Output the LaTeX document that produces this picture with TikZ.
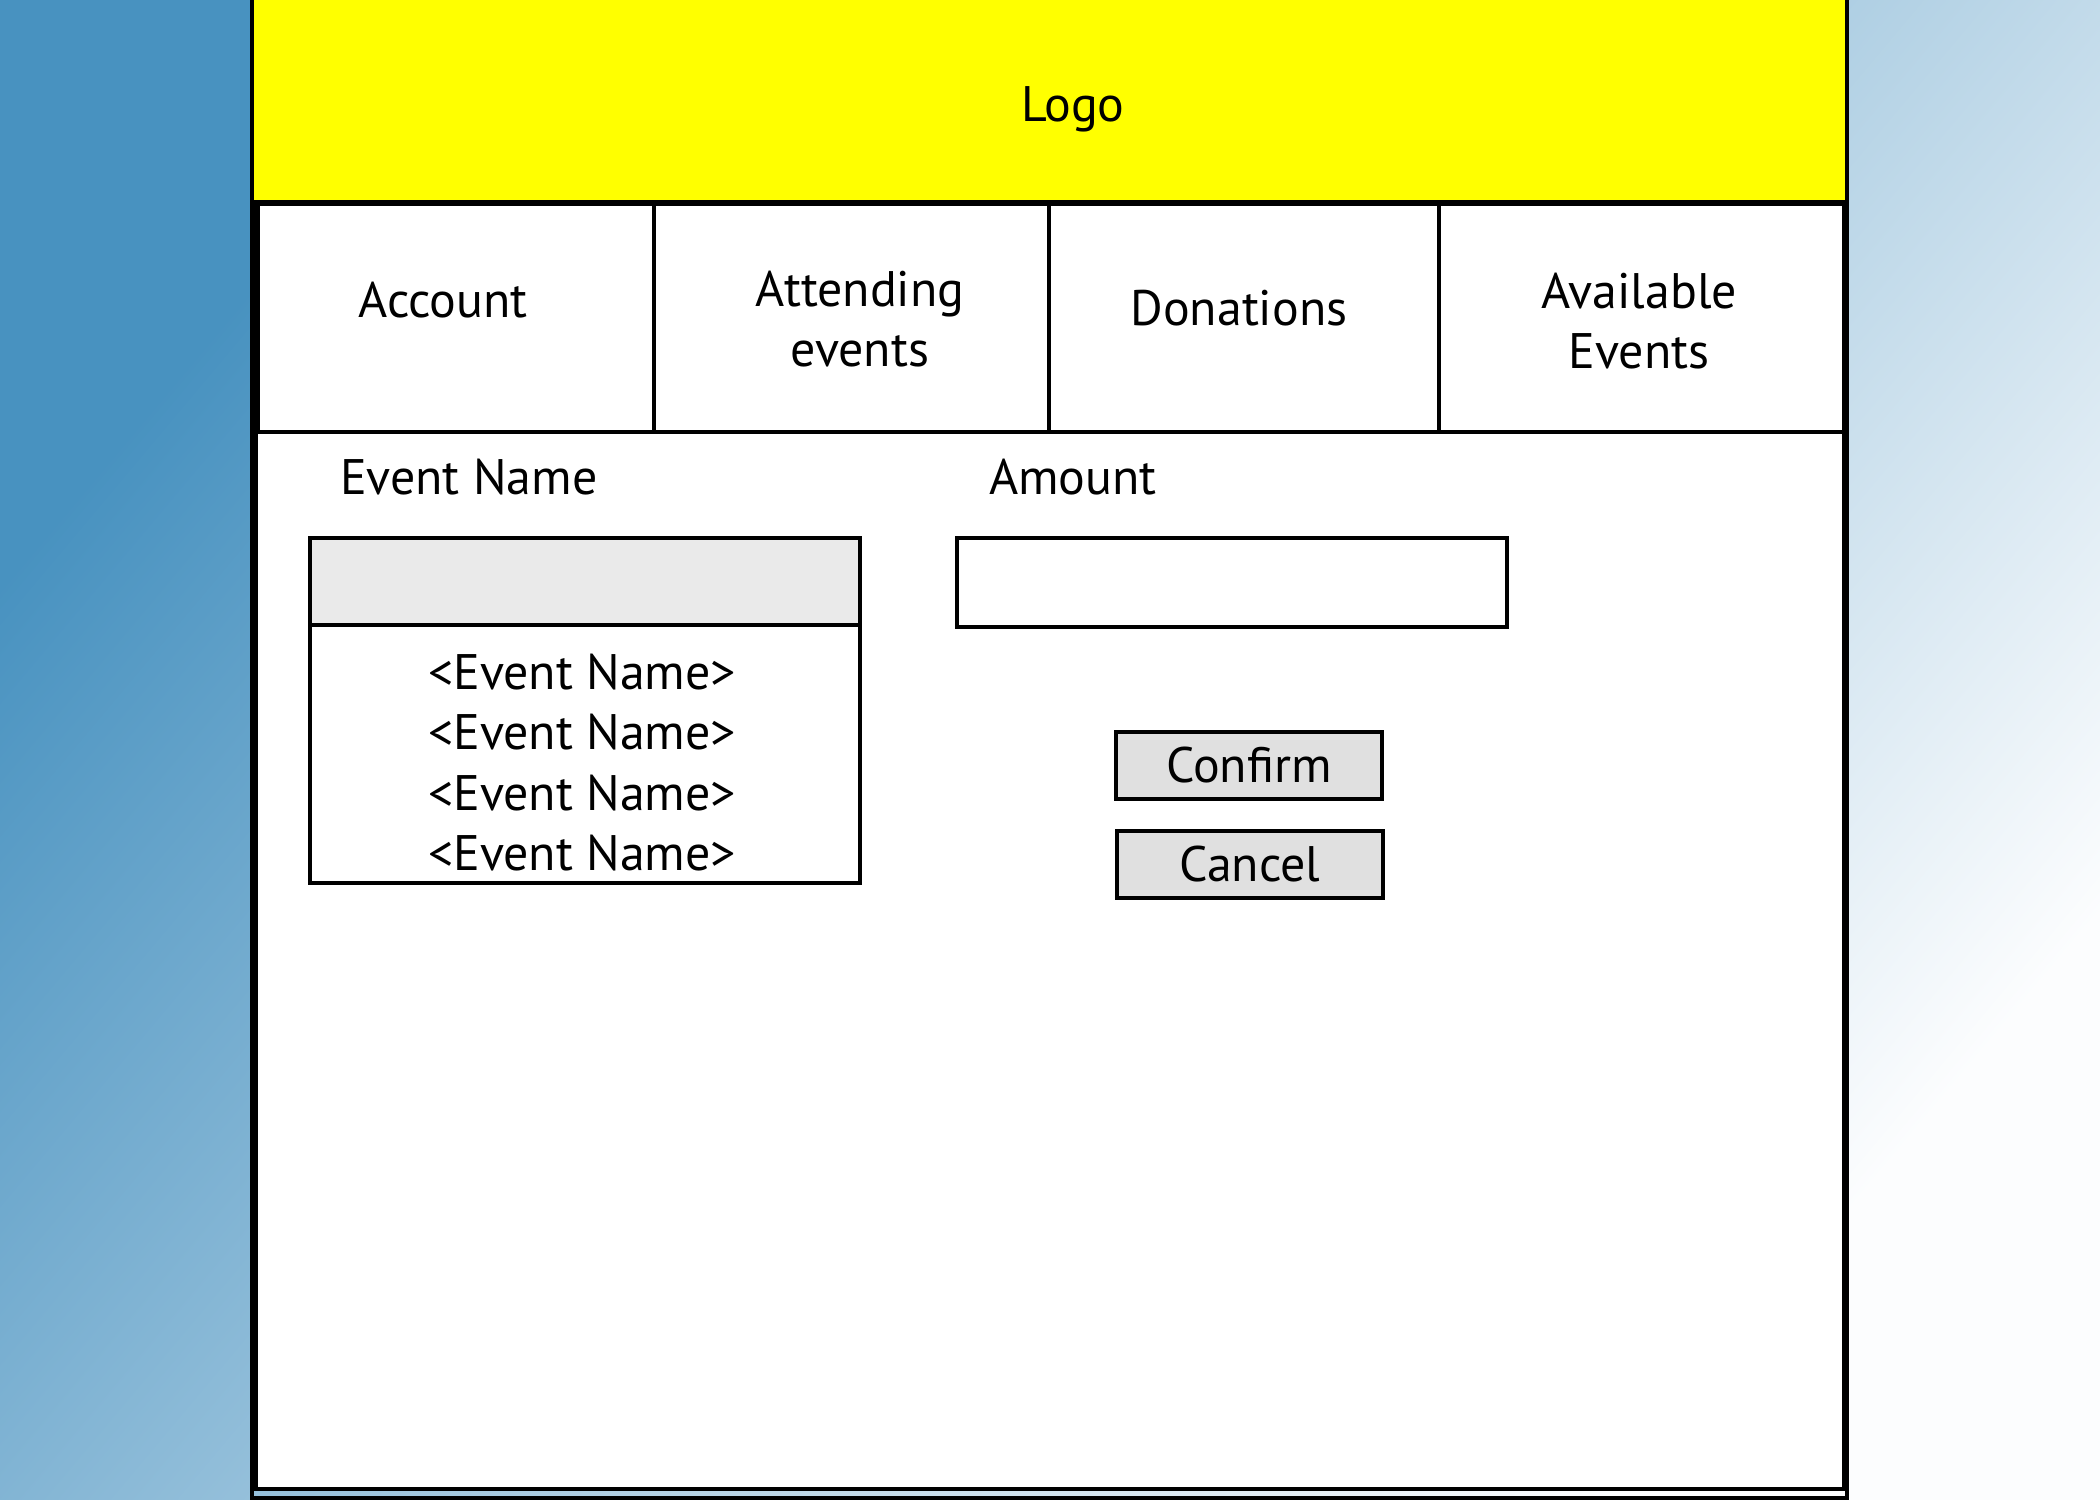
\documentclass[tikz,border=0pt]{standalone}
\usepackage{fontspec}
\setmainfont{PT Sans}
\usetikzlibrary{positioning}
\definecolor{bgdark}{RGB}{72,146,192}
\definecolor{bglight}{RGB}{252,253,254}
\definecolor{logoyellow}{RGB}{255,255,0}
\definecolor{headgrey}{RGB}{234,234,234}
\definecolor{btngrey}{RGB}{224,224,224}

\begin{document}
\begin{tikzpicture}[x=1cm,y=-1cm,
                    line width=0.04cm,
                    every node/.style={font=\fontsize{14.2pt}{17pt}\selectfont},
                    tab cell/.style={draw,rectangle,anchor=north west,minimum height=2.28cm,inner sep=0pt},
                    tab text/.style={align=center,inner sep=0pt},
                    field/.style={draw,rectangle,anchor=north west,inner sep=0pt},
                    button/.style={draw,rectangle,fill=btngrey,minimum width=2.66cm,minimum height=0.67cm,inner sep=0pt},
                    caption/.style={anchor=west,inner sep=0pt}
                   ]
  \useasboundingbox (0,0) rectangle (21,15);
  \shade[top color=bgdark,bottom color=bglight,shading angle=50] (0,0) rectangle (21,15);
  \draw (2.52,-0.1) rectangle (18.47,14.98);
  \fill[logoyellow] (2.54,0) rectangle (18.45,2.02);
  \node (logo) at (10.73,1.09) {Logo};
  \draw[fill=white] (2.56,2.02) rectangle (18.44,14.89);

  \node[tab cell,minimum width=3.96cm] (account) at (2.56,2.02) {};
  \node[tab cell,minimum width=3.95cm] (attending) at (6.52,2.02) {};
  \node[tab cell,minimum width=3.90cm] (donations) at (10.47,2.02) {};
  \node[tab cell,minimum width=4.07cm] (available) at (14.37,2.02) {};
  \node[tab text] (accountlbl) at (4.43,3.00) {Account};
  \node[tab text] (attendinglbl) at (8.60,3.19) {Attending\\events};
  \node[tab text] (donationslbl) at (12.39,3.08) {Donations};
  \node[tab text] (availablelbl) at (16.39,3.21) {Available\\Events};

  \node[caption] (namelbl) at (3.38,4.77) {Event Name};
  \node[caption] (amountlbl) at (9.87,4.77) {Amount};

  \fill[headgrey] (3.08,5.36) rectangle (8.58,6.25);
  \node[field,minimum width=5.50cm,minimum height=3.45cm] (eventlist) at (3.08,5.36) {};
  \draw (3.08,6.25) -- (8.58,6.25);
  \foreach \i/\y in {1/6.72,2/7.32,3/7.93,4/8.53}
    \node (item\i) at (5.82,\y) {<Event Name>};

  \node[field,minimum width=5.50cm,minimum height=0.89cm] (amountbox) at (9.55,5.36) {};

  \node[button] (confirm) at (12.49,7.65) {Confirm};
  \node[button] (cancel) at (12.50,8.64) {Cancel};
\end{tikzpicture}
\end{document}
